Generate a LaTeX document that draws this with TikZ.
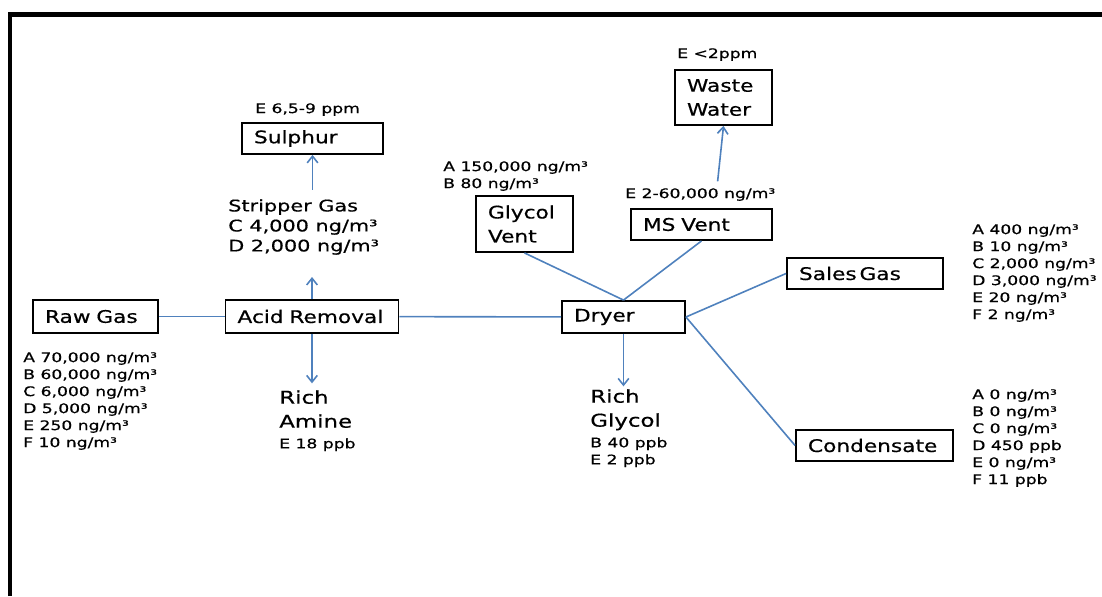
\documentclass[tikz,border=0pt]{standalone}
\usepackage{fontspec}
\setmainfont{DejaVu Sans}[FakeStretch=1.25,FakeBold=0.6]
\newfontfamily\widefont{DejaVu Sans}[FakeStretch=1.3,FakeBold=0.6]
\usetikzlibrary{arrows.meta,positioning}
\definecolor{flowblue}{RGB}{79,129,189}

\begin{document}
\begin{tikzpicture}[x=0.75pt,y=-0.75pt,
    unit/.style={draw, line width=1.4pt, inner xsep=9pt, inner ysep=2pt,
                 align=left, font=\fontsize{13}{18}\selectfont},
    note/.style={anchor=north west, inner sep=0pt, align=left,
                 font=\widefont\fontsize{9.9}{12.75}\selectfont},
    tag/.style={note, font=\widefont\fontsize{12}{15}\selectfont},
    outlet/.style={note, font=\widefont\fontsize{13.2}{18}\selectfont},
    flow/.style={draw=flowblue, line width=1.2pt},
    >={Straight Barb[length=5pt,width=8pt]}]

    \useasboundingbox (0,0) rectangle (1102,596);
    \draw[line width=3.4pt] (10,596) -- (10,14.5) -- (1102,14.5);

    % units
    \node[unit, text width=75.75pt, minimum height=24.75pt] (raw)     at (95.5,316.5) {Raw~Gas};
    \node[unit, text width=111.75pt, minimum height=24.75pt] (acid)   at (312,316.5)  {Acid~Removal};
    \node[unit, text width=74.25pt, minimum height=24pt]    (dryer)   at (623.5,317)  {Dryer};
    \node[unit, text width=87.75pt, minimum height=23.25pt] (sulphur) at (312.5,138.5) {Sulphur};
    \node[unit, text width=54.75pt, minimum height=42pt]    (gvent)   at (524.5,224)  {Glycol\\Vent};
    \node[unit, text width=87.75pt, minimum height=23.25pt] (msvent)  at (701.5,224.5) {MS~Vent};
    \node[unit, text width=54.75pt, minimum height=41.25pt] (waste)   at (723.5,97.5) {Waste\\Water};
    \node[unit, text width=99pt, minimum height=23.25pt]    (sales)   at (865,273.5)  {Sales\,Gas};
    \node[unit, text width=99.75pt, minimum height=23.25pt] (cond)    at (874.5,445.5) {Condensate};

    % concentrations
    \node[note] (rawdata) at (23,352) {A 70,000 ng/m³\\B 60,000 ng/m³\\C 6,000 ng/m³\\D 5,000 ng/m³\\E 250 ng/m³\\F 10 ng/m³};
    \node[note] (sulphurdata) at (255,103) {E 6,5-9 ppm};
    \node[tag]  (stripper) at (228,199) {Stripper Gas\\C 4,000 ng/m³\\D 2,000 ng/m³};
    \node[outlet] (amine) at (279,390) {Rich\\Amine};
    \node[note] (aminedata) at (279,438) {E 18 ppb};
    \node[note] (gventdata) at (443,161) {A 150,000 ng/m³\\B 80 ng/m³};
    \node[note] (msventdata) at (625,188) {E 2-60,000 ng/m³};
    \node[note] (wastedata) at (677,48) {E <2ppm};
    \node[outlet] (glycol) at (590,389) {Rich\\Glycol};
    \node[note] (glycoldata) at (590,437) {B 40 ppb\\E 2 ppb};
    \node[note] (salesdata) at (972,224) {A 400 ng/m³\\B 10 ng/m³\\C 2,000 ng/m³\\D 3,000 ng/m³\\E 20 ng/m³\\F 2 ng/m³};
    \node[note] (conddata) at (972,389) {A 0 ng/m³\\B 0 ng/m³\\C 0 ng/m³\\D 450 ppb\\E 0 ng/m³\\F 11 ppb};

    \coordinate (stripin) at (312,277);

    % streams
    \draw[flow] (raw) -- (acid);
    \draw[flow] (acid) -- (dryer);
    \draw[flow,->] (acid.north) -- (stripin);
    \draw[flow,->] ([yshift=7pt]stripper.north -| sulphur.south) -- (sulphur.south);
    \draw[flow,->] (acid.south) -- ([yshift=5pt]acid.south |- amine.north);
    \draw[flow] (gvent.south) -- (dryer.north);
    \draw[flow] (msvent.south) -- (dryer.north);
    \draw[flow,->] ([xshift=13pt,yshift=5pt]msventdata.north) -- (waste.south);
    \draw[flow] (dryer.east) -- (sales.west);
    \draw[flow] (dryer.east) -- (cond.west);
    \draw[flow,->] (dryer.south) -- ([yshift=2pt]dryer.south |- glycol.north);

\end{tikzpicture}
\end{document}
